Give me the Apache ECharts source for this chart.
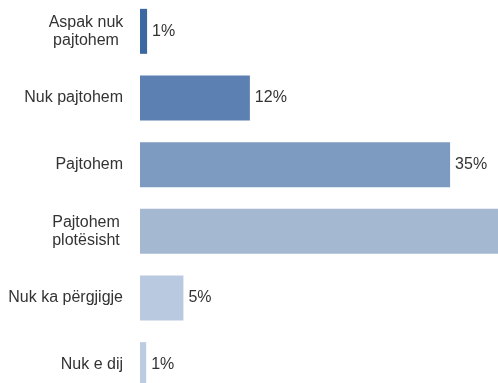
<!DOCTYPE html>
<html>
<head>
<meta charset="utf-8">
<script src="https://cdn.jsdelivr.net/npm/echarts@6/dist/echarts.min.js"></script>
<style>
  html, body { margin: 0; padding: 0; background: #fff; }
  #chart1 { width: 498px; height: 383px; }
</style>
</head>
<body>
<div id="chart1"></div>
<script>
// te dhenat (rendi nga lart poshte)
var categories = ['Aspak nuk\npajtohem', 'Nuk pajtohem', 'Pajtohem', 'Pajtohem\nplotësisht', 'Nuk ka përgjigje', 'Nuk e dij'];
var values = [0.8, 12.4, 35, 46.2, 4.9, 0.7];
var barColors = ['#3c68a2', '#5b80b1', '#7d9ac1', '#a5b8d2', '#b9c9df', '#bdcce1'];

function renderChart (id) {
  var chart = echarts.init(document.getElementById(id));
  var option = {
    animation: false,
    textStyle: {
      fontFamily: 'Liberation Sans, Arial, sans-serif'
    },
    grid: {
      containLabel: false,
      outerBoundsMode: 'none',
      top: -2,
      bottom: -15,
      left: 140,
      right: -85
    },
    xAxis: {
      type: 'value',
      min: 0,
      max: 50,
      show: false
    },
    yAxis: {
      type: 'category',
      inverse: true,
      data: categories,
      axisLine: { show: false },
      axisTick: { show: false },
      splitLine: { show: false },
      axisLabel: {
        margin: 17,
        color: '#333',
        fontSize: 16,
        lineHeight: 18,
        align: 'right',
        formatter: function (v) {
          var lines = v.split('\n');
          if (lines.length < 2) return v;
          return lines.map(function (l) { return '{c|' + l + '}'; }).join('\n');
        },
        rich: {
          c: {
            width: 74,
            align: 'center',
            fontSize: 16,
            lineHeight: 18,
            color: '#333'
          }
        }
      }
    },
    series: [{
      type: 'bar',
      data: values,
      barWidth: 45,
      itemStyle: {
        color: function (p) { return barColors[p.dataIndex]; }
      },
      label: {
        show: true,
        position: 'right',
        distance: 5,
        color: '#333',
        fontSize: 16,
        formatter: function (p) { return Math.round(p.value) + '%'; }
      }
    }]
  };
  chart.setOption(option, true);
}
renderChart('chart1');
</script>
</body>
</html>
